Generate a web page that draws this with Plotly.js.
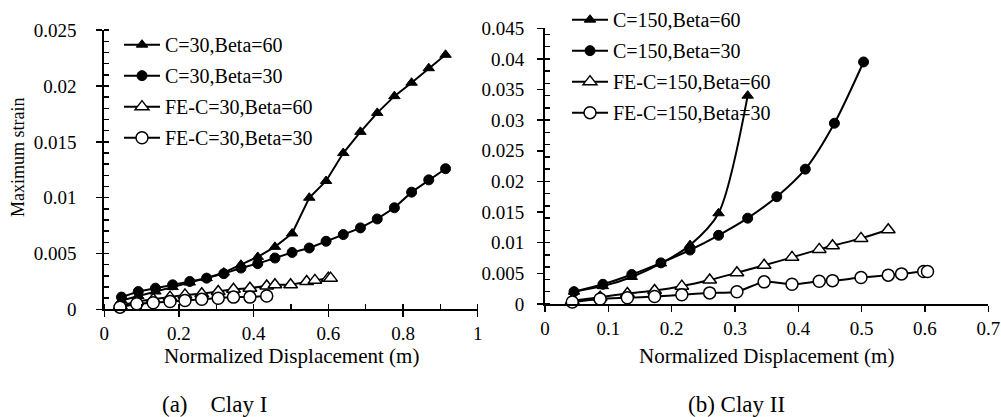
<!DOCTYPE html>
<html><head><meta charset="utf-8">
<script src="https://cdn.plot.ly/plotly-3.0.1.min.js"></script>
<style>html,body{margin:0;padding:0;background:#fff}#chart{width:1001px;height:417px}</style>
</head><body><div id="chart"></div>
<script>
// ---- Clay I (left panel) ----
const xC30 = [0.046,0.091,0.137,0.183,0.229,0.274,0.320,0.366,0.411,0.457,0.503,0.549,0.594,0.640,0.686,0.731,0.777,0.823,0.869,0.914];
const yC30B60 = [0.0008,0.0012,0.0016,0.0020,0.0024,0.0028,0.0033,0.0040,0.0047,0.0056,0.0068,0.0100,0.0115,0.0140,0.0159,0.0176,0.0191,0.0203,0.0216,0.0228];
const yC30B30 = [0.0011,0.0016,0.0019,0.0022,0.0025,0.0028,0.0032,0.0037,0.0041,0.0046,0.0051,0.0055,0.0061,0.0067,0.0073,0.0081,0.0091,0.0105,0.0116,0.0126];
const xFE30B60 = [0.043,0.087,0.131,0.176,0.216,0.261,0.305,0.346,0.390,0.435,0.457,0.499,0.542,0.564,0.600,0.606];
const yFE30B60 = [0.0003,0.0007,0.0009,0.0011,0.0013,0.0014,0.0016,0.0018,0.0019,0.0021,0.0022,0.0022,0.0025,0.0026,0.0028,0.0028];
const xFE30B30 = [0.042,0.087,0.131,0.176,0.216,0.261,0.305,0.346,0.390,0.435];
const yFE30B30 = [0.0002,0.0005,0.0006,0.0007,0.0008,0.0009,0.0010,0.0011,0.0011,0.0012];
const namesLeft = ['C=30,Beta=60','C=30,Beta=30','FE-C=30,Beta=60','FE-C=30,Beta=30'];

// ---- Clay II (right panel) ----
const xC150B60 = [0.0457,0.0914,0.137,0.183,0.229,0.274,0.320];
const yC150B60 = [0.0020,0.0029,0.0044,0.0066,0.0096,0.0148,0.0340];
const xC150B30 = [0.0457,0.0914,0.137,0.183,0.229,0.274,0.320,0.366,0.411,0.457,0.503];
const yC150B30 = [0.0020,0.0032,0.0048,0.0067,0.0088,0.0112,0.0140,0.0175,0.0220,0.0295,0.0395];
const xFE150B60 = [0.043,0.087,0.130,0.173,0.216,0.260,0.303,0.346,0.390,0.433,0.454,0.499,0.542];
const yFE150B60 = [0.0005,0.0011,0.0017,0.0022,0.0029,0.0039,0.0051,0.0063,0.0076,0.0089,0.0095,0.0107,0.0121];
const xFE150B30 = [0.043,0.087,0.130,0.173,0.216,0.260,0.303,0.346,0.390,0.433,0.454,0.499,0.542,0.563,0.598,0.604];
const yFE150B30 = [0.0003,0.0008,0.0010,0.0012,0.0015,0.0018,0.0020,0.0036,0.0032,0.0037,0.0038,0.0043,0.0047,0.0049,0.0053,0.0053];
const namesRight = ['C=150,Beta=60','C=150,Beta=30','FE-C=150,Beta=60','FE-C=150,Beta=30'];

const FONT = '"Liberation Serif"';
const styles = [
  {symbol:'triangle-up', size:10, color:'black', line:{color:'black', width:1}},
  {symbol:'circle', size:10, color:'black', line:{color:'black', width:1}},
  {symbol:'triangle-up', size:12, color:'white', line:{color:'black', width:1.5}},
  {symbol:'circle', size:12, color:'white', line:{color:'black', width:1.5}}
];
function tr(x, y, name, i, xa, ya, leg, shape) {
  return {x:x, y:y, name:name, type:'scatter', mode:'lines+markers', xaxis:xa, yaxis:ya,
    legend:leg, legendgroup:leg+i, cliponaxis:false,
    line:{color:'black', width:2, shape:shape, smoothing:0.8}, marker:styles[i]};
}
const data = [
  tr(xC30, yC30B60, namesLeft[0], 0, 'x', 'y', 'legend', 'linear'),
  tr(xC30, yC30B30, namesLeft[1], 1, 'x', 'y', 'legend', 'linear'),
  tr(xFE30B60, yFE30B60, namesLeft[2], 2, 'x', 'y', 'legend', 'linear'),
  tr(xFE30B30, yFE30B30, namesLeft[3], 3, 'x', 'y', 'legend', 'linear'),
  tr(xC150B60, yC150B60, namesRight[0], 0, 'x2', 'y2', 'legend2', 'spline'),
  tr(xC150B30, yC150B30, namesRight[1], 1, 'x2', 'y2', 'legend2', 'spline'),
  tr(xFE150B60, yFE150B60, namesRight[2], 2, 'x2', 'y2', 'legend2', 'spline'),
  tr(xFE150B30, yFE150B30, namesRight[3], 3, 'x2', 'y2', 'legend2', 'spline')
];
const tickfont = {family:FONT, size:19, color:'black'};
function ax(o) {
  return Object.assign({showline:true, linecolor:'black', linewidth:2, showgrid:false, zeroline:false,
    ticks:'outside', ticklen:6, tickwidth:1.5, tickcolor:'black', tickfont:tickfont, fixedrange:true}, o);
}
const legendBase = {font:{family:FONT, size:20, color:'black'}, bgcolor:'rgba(0,0,0,0)', borderwidth:0,
  tracegroupgap:2, traceorder:'grouped', xanchor:'left', yanchor:'top', itemwidth:36};
const layout = {
  width:1001, height:417, margin:{l:0, r:0, t:0, b:0}, paper_bgcolor:'white', plot_bgcolor:'white',
  font:{family:FONT, color:'black'},
  showlegend:true,
  xaxis: ax({domain:[0.1042,0.4772], range:[0,1], tick0:0, dtick:0.2, anchor:'y', ticklabelstandoff:0,
    minor:{ticks:'inside', dtick:0.1, tick0:0, ticklen:5, tickwidth:1.5, tickcolor:'black'}}),
  yaxis: ax({domain:[0.2631,0.9456], range:[0,0.025], tick0:0, dtick:0.005, anchor:'x', ticklabelstandoff:16,
    minor:{ticks:'inside', dtick:0.001, tick0:0, ticklen:5, tickwidth:1.5, tickcolor:'black'}}),
  xaxis2: ax({domain:[0.5445,0.9873], range:[0,0.7], tick0:0, dtick:0.1, anchor:'y2', ticklabelstandoff:0}),
  yaxis2: ax({domain:[0.2765,0.9504], range:[0,0.045], tick0:0, dtick:0.005, anchor:'x2', ticklabelstandoff:9,
    minor:{ticks:'inside', dtick:0.002, tick0:0, ticklen:5, tickwidth:1.5, tickcolor:'black'}}),
  legend: Object.assign({}, legendBase, {x:119/1001, y:1-17.5/417}),
  legend2: Object.assign({}, legendBase, {x:567/1001, y:1+8/417}),
  annotations: [
    {text:'Maximum strain', xref:'paper', yref:'paper', x:18/1001, y:1-152/417, textangle:-90,
     showarrow:false, font:{family:FONT, size:18, color:'black'}, xanchor:'center', yanchor:'middle'},
    {text:'Normalized Displacement (m)', xref:'paper', yref:'paper', x:291/1001, y:1-355/417,
     showarrow:false, font:{family:FONT, size:21, color:'black'}, xanchor:'center', yanchor:'middle'},
    {text:'Normalized Displacement (m)', xref:'paper', yref:'paper', x:766/1001, y:1-355/417,
     showarrow:false, font:{family:FONT, size:21, color:'black'}, xanchor:'center', yanchor:'middle'},
    {text:'(a)\u00a0\u00a0\u00a0 Clay I', xref:'paper', yref:'paper', x:214/1001, y:1-404/417,
     showarrow:false, font:{family:FONT, size:23, color:'black'}, xanchor:'center', yanchor:'middle'},
    {text:'(b) Clay II', xref:'paper', yref:'paper', x:736/1001, y:1-404/417,
     showarrow:false, font:{family:FONT, size:23, color:'black'}, xanchor:'center', yanchor:'middle'}
  ]
};
Plotly.newPlot('chart', data, layout, {displayModeBar:false, staticPlot:true});
</script></body></html>
